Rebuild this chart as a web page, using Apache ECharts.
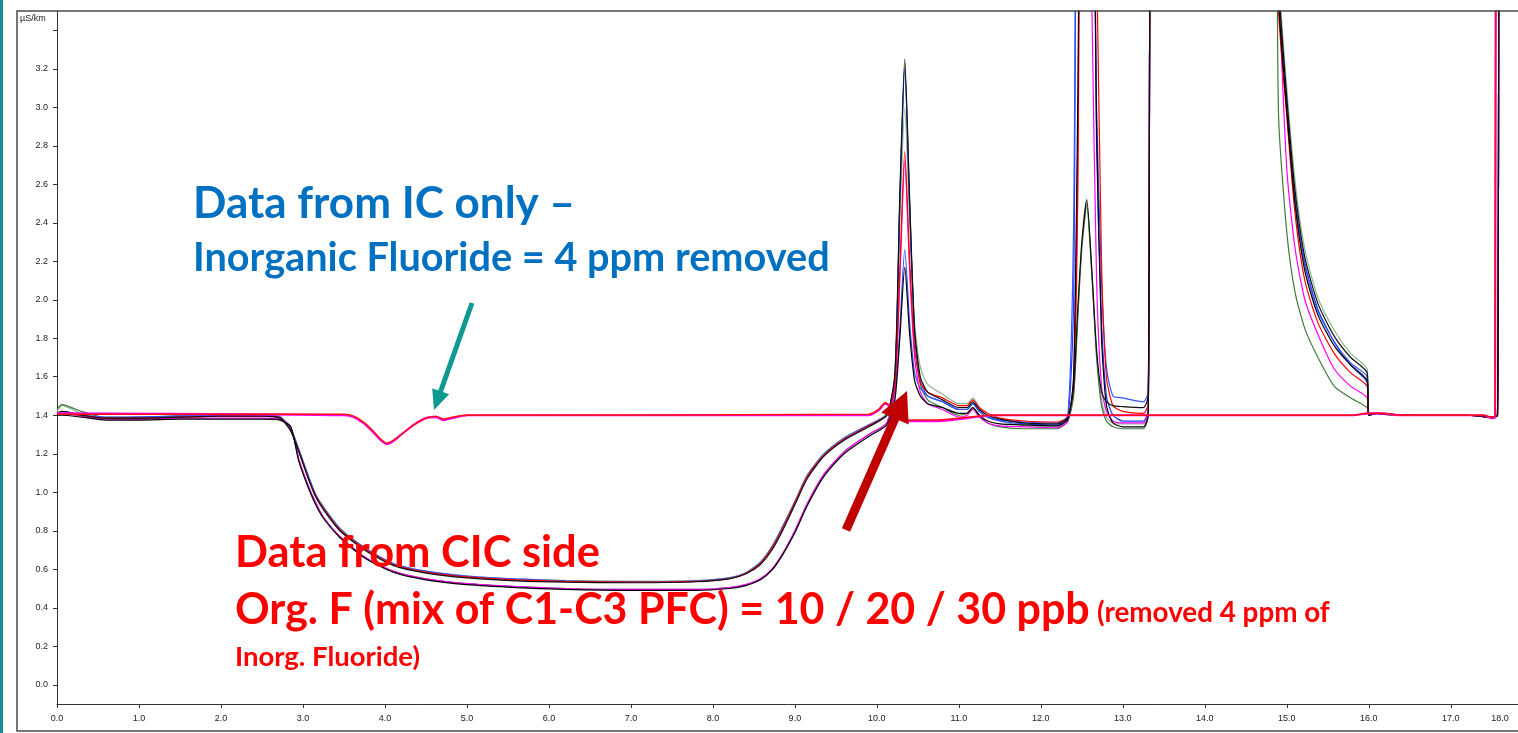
<!DOCTYPE html>
<html><head><meta charset="utf-8">
<script src="https://cdn.jsdelivr.net/npm/echarts@6/dist/echarts.min.js"></script>
<style>html,body{margin:0;padding:0;background:#fff}#c{width:1518px;height:733px}</style>
</head><body><div id="c"></div>
<script>
// retention time (min), shared by the CIC traces
const T = [
 0.00,0.06,0.30,0.60,1.00,1.50,2.00,2.50,2.72,2.85,
 2.95,3.05,3.15,3.25,3.45,3.75,4.10,4.50,5.00,5.60,
 6.20,7.00,7.80,8.20,8.40,8.58,8.72,8.85,9.00,9.15,
 9.35,9.60,9.90,10.12,10.22,10.28,10.34,10.40,10.46,10.53,
 10.62,10.80,11.00,11.10,11.17,11.25,11.35,11.50,11.80,12.20,
 12.33,12.40,12.45,12.50,12.56,12.62,12.68,12.74,12.80,12.88,
 13.00,13.25,13.31,13.37,14.82,14.90,15.00,15.10,15.22,15.38,
 15.58,15.78,15.98,16.00,16.10,16.25,16.60,17.20,17.50,17.57,
 17.61,17.82];

// CIC traces (µS/cm); values above 3.5 are off-scale
const cicGrayGreen = [
 1.42,1.45,1.41,1.39,1.39,1.40,1.405,1.405,1.395,1.335,
 1.225,1.105,0.995,0.925,0.815,0.715,0.63,0.59,0.565,0.55,
 0.542,0.538,0.542,0.557,0.583,0.64,0.72,0.825,0.955,1.09,
 1.20,1.285,1.35,1.41,1.60,2.40,3.00,2.40,1.88,1.65,
 1.56,1.51,1.46,1.46,1.49,1.44,1.40,1.37,1.345,1.34,
 1.38,1.52,1.92,2.26,2.48,2.14,1.72,1.48,1.39,1.36,
 1.355,1.355,1.42,5,5,3.70,3.10,2.62,2.26,2.01,
 1.84,1.72,1.64,1.40,1.41,1.405,1.40,1.40,1.39,1.40,
 5,5];
const cicGreen = [
 1.43,1.455,1.42,1.385,1.38,1.395,1.40,1.40,1.385,1.34,
 1.17,1.05,0.95,0.87,0.77,0.66,0.59,0.55,0.525,0.51,
 0.50,0.495,0.495,0.505,0.52,0.55,0.60,0.68,0.80,0.94,
 1.09,1.21,1.30,1.36,1.58,2.50,3.22,2.50,1.82,1.56,
 1.48,1.44,1.40,1.41,1.44,1.40,1.36,1.34,1.33,1.33,
 1.37,1.50,1.90,2.28,2.50,2.15,1.70,1.45,1.37,1.34,
 1.33,1.33,1.40,5,5,2.95,2.35,2.04,1.85,1.70,
 1.55,1.49,1.44,1.40,1.41,1.40,1.40,1.40,1.39,1.40,
 5,5];
const cicBlue2 = [
 1.41,1.42,1.40,1.385,1.39,1.395,1.40,1.40,1.39,1.33,
 1.22,1.10,0.99,0.92,0.81,0.71,0.625,0.585,0.56,0.545,
 0.537,0.533,0.537,0.552,0.578,0.63,0.71,0.81,0.945,1.08,
 1.19,1.275,1.345,1.40,1.60,2.50,3.20,2.48,1.82,1.58,
 1.50,1.47,1.43,1.43,1.46,1.42,1.39,1.37,1.355,1.35,
 1.39,2.00,5,5,5,5,2.80,1.90,1.50,1.40,
 1.37,1.37,1.43,5,5,3.62,3.02,2.53,2.19,1.95,
 1.78,1.66,1.57,1.40,1.41,1.405,1.40,1.40,1.39,1.40,
 5,5];
const cicBlue1 = [
 1.41,1.41,1.40,1.39,1.39,1.395,1.40,1.40,1.39,1.33,
 1.22,1.10,0.99,0.92,0.81,0.71,0.63,0.59,0.565,0.55,
 0.54,0.535,0.54,0.555,0.58,0.635,0.715,0.82,0.95,1.085,
 1.195,1.28,1.35,1.40,1.52,1.85,2.26,1.88,1.62,1.54,
 1.50,1.47,1.43,1.43,1.46,1.42,1.39,1.375,1.365,1.36,
 1.40,2.40,5,5,5,5,3.00,2.10,1.65,1.50,
 1.49,1.47,1.52,5,5,3.60,3.00,2.52,2.18,1.94,
 1.78,1.67,1.60,1.40,1.41,1.405,1.40,1.40,1.39,1.40,
 5,5];
const cicMagenta = [
 1.40,1.41,1.395,1.38,1.38,1.385,1.385,1.385,1.38,1.34,
 1.17,1.05,0.95,0.87,0.77,0.665,0.59,0.55,0.525,0.51,
 0.50,0.495,0.495,0.505,0.52,0.55,0.60,0.68,0.80,0.94,
 1.09,1.21,1.30,1.36,1.52,2.10,2.72,2.15,1.70,1.52,
 1.46,1.43,1.39,1.40,1.43,1.39,1.36,1.345,1.34,1.335,
 1.37,1.60,2.80,5,5,3.60,2.10,1.55,1.42,1.37,
 1.36,1.36,1.42,5,5,3.70,2.68,2.27,2.00,1.82,
 1.64,1.55,1.49,1.40,1.41,1.405,1.40,1.40,1.39,1.40,
 5,5];
const cicRed = [
 1.40,1.41,1.40,1.385,1.385,1.39,1.395,1.395,1.385,1.32,
 1.21,1.09,0.985,0.915,0.805,0.705,0.625,0.585,0.56,0.545,
 0.537,0.533,0.537,0.552,0.578,0.63,0.71,0.81,0.945,1.08,
 1.19,1.275,1.345,1.40,1.56,2.15,2.77,2.20,1.75,1.57,
 1.52,1.49,1.45,1.45,1.48,1.44,1.41,1.385,1.37,1.365,
 1.39,1.55,2.50,5,5,5,3.80,2.20,1.60,1.45,
 1.42,1.41,1.46,5,5,3.50,2.95,2.45,2.10,1.88,
 1.72,1.62,1.55,1.40,1.41,1.405,1.40,1.40,1.39,1.40,
 5,5];
const cicBlack2 = [
 1.40,1.40,1.39,1.375,1.375,1.38,1.38,1.38,1.375,1.34,
 1.16,1.04,0.94,0.865,0.765,0.66,0.585,0.545,0.52,0.505,
 0.495,0.49,0.49,0.50,0.515,0.545,0.595,0.675,0.79,0.93,
 1.08,1.20,1.29,1.35,1.48,1.80,2.17,1.82,1.58,1.50,
 1.46,1.44,1.41,1.41,1.44,1.40,1.37,1.355,1.35,1.345,
 1.38,1.60,3.00,5,5,5,2.90,1.80,1.45,1.36,
 1.34,1.34,1.40,5,5,3.55,2.98,2.50,2.15,1.92,
 1.76,1.66,1.58,1.40,1.41,1.405,1.40,1.40,1.39,1.40,
 5,5];
const cicBlack1 = [
 1.41,1.42,1.40,1.385,1.385,1.39,1.395,1.395,1.385,1.32,
 1.21,1.09,0.98,0.91,0.80,0.70,0.62,0.58,0.555,0.54,
 0.533,0.53,0.535,0.55,0.575,0.625,0.70,0.80,0.935,1.07,
 1.185,1.27,1.34,1.40,1.62,2.55,3.25,2.52,1.85,1.60,
 1.52,1.48,1.44,1.44,1.47,1.43,1.40,1.38,1.36,1.355,
 1.39,1.55,1.95,2.30,2.52,2.17,1.74,1.52,1.47,1.45,
 1.445,1.44,1.50,5,5,3.65,3.05,2.57,2.22,1.98,
 1.81,1.70,1.62,1.40,1.41,1.405,1.40,1.40,1.39,1.40,
 5,5];

// IC-only traces
const TIC = [0.00,2.50,3.50,3.62,3.75,3.85,3.95,4.02,4.10,4.20,4.35,4.50,4.62,4.72,4.82,5.00,
 9.90,10.02,10.10,10.18,10.28,10.40,10.70,10.90,11.10,11.40,15.80,16.00,16.15,16.40,17.40,17.50,17.54,17.555,17.82];
const icMagenta = [1.41,1.405,1.40,1.39,1.355,1.315,1.27,1.25,1.265,1.30,1.35,1.385,1.39,1.375,1.385,1.40,
 1.40,1.425,1.46,1.435,1.38,1.37,1.37,1.375,1.385,1.40,1.40,1.41,1.41,1.40,1.40,1.385,1.39,5,5];
const icRed = [1.405,1.405,1.405,1.395,1.36,1.32,1.275,1.255,1.27,1.30,1.35,1.385,1.395,1.38,1.39,1.40,
 1.405,1.43,1.465,1.44,1.385,1.375,1.375,1.38,1.39,1.40,1.40,1.41,1.41,1.40,1.40,1.39,1.395,5,5];

const yTickVals = [0.0,0.2,0.4,0.6,0.8,1.0,1.2,1.4,1.6,1.8,2.0,2.2,2.4,2.6,2.8,3.0,3.2,3.4];
const yLabelVals = [0.0,0.2,0.4,0.6,0.8,1.0,1.2,1.4,1.6,1.8,2.0,2.2,2.4,2.6,2.8,3.0,3.2];

const zip = (xs, ys) => xs.map((x, i) => [x, ys[i]]);

const cic = [
  [cicGrayGreen, '#8DB58D'],
  [cicGreen, '#3F7A3F'],
  [cicBlue2, '#2438FF'],
  [cicBlue1, '#3355FF'],
  [cicMagenta, '#FF00FF'],
  [cicRed, '#FF0000'],
  [cicBlack2, '#000000'],
  [cicBlack1, '#111111']
];
const series = cic.map(([ys, c]) => ({
  type: 'line', data: zip(T, ys), showSymbol: false, symbol: 'none',
  smooth: 0.22,
  lineStyle: {color: c, width: 1.2}, itemStyle: {color: c}, silent: true
}));
series.push({type: 'line', data: zip(TIC, icMagenta), showSymbol: false, symbol: 'none',
  smooth: 0.22, lineStyle: {color: '#FF00FF', width: 2.2}, silent: true});
series.push({type: 'line', data: zip(TIC, icRed), showSymbol: false, symbol: 'none',
  smooth: 0.22, lineStyle: {color: '#FF1010', width: 1.5}, silent: true});

const cv = document.createElement('canvas').getContext('2d');
function fit(text, px, fam) {
  cv.font = 'bold 100px ' + fam;
  return 100 * px / cv.measureText(text).width;
}
const FAM = 'Lato';
function txt(s, x, y, w, color) {
  return {type: 'text', x: x, y: y, z: 50,
    style: {text: s, x: 0, y: 0, fill: color, fontFamily: FAM, fontWeight: 'bold',
      fontSize: fit(s, w, FAM), verticalAlign: 'middle', align: 'left'}};
}
function arrow(x0, y0, x1, y1, headLen, headHalf, width, color) {
  const dx = x1 - x0, dy = y1 - y0, L = Math.hypot(dx, dy);
  const ux = dx / L, uy = dy / L, nx = -uy, ny = ux;
  const bx = x1 - headLen * ux, by = y1 - headLen * uy;
  return [
    {type: 'line', z: 40, shape: {x1: x0, y1: y0, x2: bx + ux, y2: by + uy},
      style: {stroke: color, lineWidth: width}},
    {type: 'polygon', z: 40, shape: {points: [[x1, y1], [bx + headHalf * nx, by + headHalf * ny], [bx - headHalf * nx, by - headHalf * ny]]},
      style: {fill: color}}
  ];
}

const chart = echarts.init(document.getElementById('c'), null, {renderer: 'canvas'});
chart.setOption({
  animation: false,
  backgroundColor: '#ffffff',
  grid: {left: 57, top: 11, right: 0, bottom: 29, containLabel: false},
  xAxis: {
    type: 'value', min: 0, max: 17.82, interval: 1,
    axisLine: {onZero: false, lineStyle: {color: '#333', width: 1}},
    axisTick: {length: 4, lineStyle: {color: '#333'}},
    axisLabel: {showMaxLabel: false, formatter: v => v.toFixed(1), fontSize: 9, color: '#222', fontFamily: 'Liberation Sans', margin: 10},
    splitLine: {show: false}
  },
  yAxis: {
    type: 'value', min: -0.1, max: 3.5,
    axisLine: {show: true, onZero: false, lineStyle: {color: '#333', width: 1}},
    axisTick: {show: true, length: 4, lineStyle: {color: '#333'}, customValues: yTickVals},
    axisLabel: {customValues: yLabelVals, formatter: v => v.toFixed(1), fontSize: 9, color: '#222', fontFamily: 'Liberation Sans', margin: 9},
    splitLine: {show: false}
  },
  series: series,
  graphic: [
    {type: 'rect', z: 30, shape: {x: 0, y: 0, width: 3, height: 733}, style: {fill: '#178C96'}},
    {type: 'rect', z: 30, shape: {x: 17, y: 11, width: 1530, height: 720}, style: {fill: null, stroke: '#4a4a4a', lineWidth: 1.5}},
    {type: 'text', z: 30, x: 20, y: 14, style: {text: 'µS/km', fontSize: 9, fontFamily: 'Liberation Sans', fill: '#222', verticalAlign: 'top'}},
    {type: 'text', z: 30, x: 1500, y: 719, style: {text: '18.0', fontSize: 9, fontFamily: 'Liberation Sans', fill: '#222', align: 'center', verticalAlign: 'middle'}},
    txt('Data from IC only –', 193, 204, 382, '#0070C0'),
    txt('Inorganic Fluoride = 4 ppm removed', 193, 258, 637, '#0070C0'),
    txt('Data from CIC side', 235, 553, 365, '#FF0000'),
    txt('Org. F (mix of C1-C3 PFC) = 10 / 20 / 30 ppb', 235, 610, 855, '#FF0000'),
    txt('(removed 4 ppm of', 1097, 613, 233, '#FF0000'),
    txt('Inorg. Fluoride)', 235, 657, 185, '#FF0000'),
    ...arrow(472, 303, 434, 410, 20, 9, 5, '#0E9A91'),
    ...arrow(846, 530, 907, 391, 30, 15, 9, '#C00000')
  ]
});
</script></body></html>
